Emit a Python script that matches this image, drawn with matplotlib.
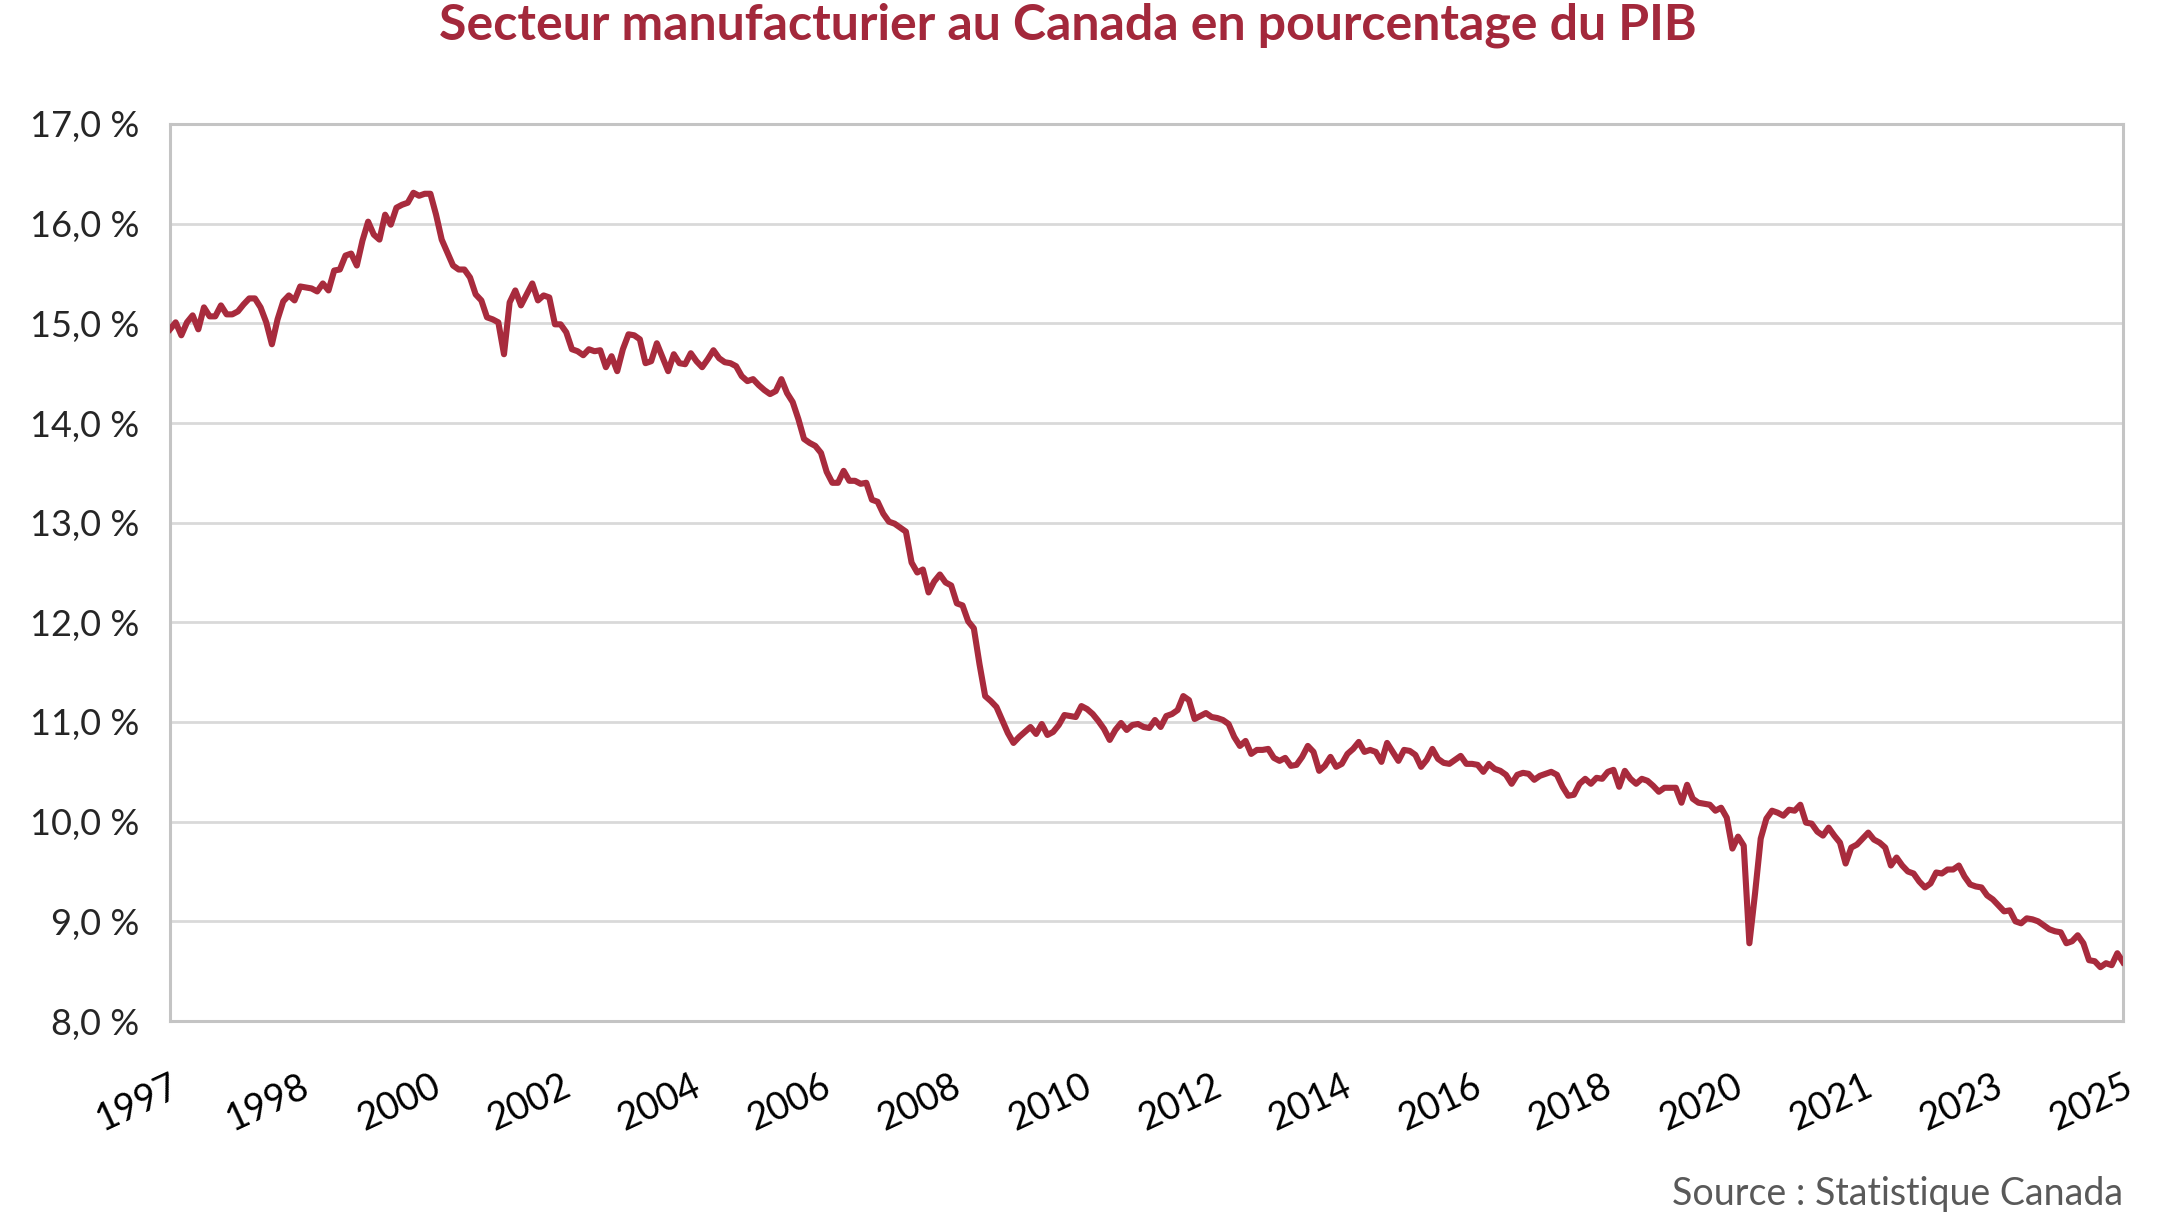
import matplotlib
matplotlib.use('Agg')
import matplotlib.pyplot as plt
import numpy as np
import pandas as pd

plt.rcParams['font.family'] = ['Lato', 'DejaVu Sans']

# manufacturing share of GDP (%), monthly Jan 1997 - Oct 2025
share = [
    14.94, 15.01, 14.88, 15.01, 15.08, 14.94, 15.16, 15.07, 15.07, 15.18, 15.09, 15.09,  # 1997
    15.12, 15.19, 15.25, 15.25, 15.16, 15.01, 14.79, 15.04, 15.22, 15.28, 15.23, 15.37,  # 1998
    15.36, 15.35, 15.32, 15.40, 15.33, 15.53, 15.54, 15.68, 15.70, 15.58, 15.83, 16.02,  # 1999
    15.89, 15.84, 16.09, 15.99, 16.16, 16.19, 16.21, 16.31, 16.28, 16.30, 16.30, 16.09,  # 2000
    15.84, 15.71, 15.58, 15.54, 15.54, 15.46, 15.29, 15.23, 15.06, 15.04, 15.01, 14.69,  # 2001
    15.21, 15.33, 15.18, 15.29, 15.40, 15.23, 15.28, 15.26, 14.99, 14.99, 14.91, 14.74,  # 2002
    14.72, 14.68, 14.74, 14.72, 14.73, 14.56, 14.67, 14.52, 14.74, 14.89, 14.88, 14.84,  # 2003
    14.60, 14.62, 14.80, 14.66, 14.52, 14.69, 14.60, 14.59, 14.70, 14.62, 14.56, 14.64,  # 2004
    14.73, 14.65, 14.61, 14.60, 14.57, 14.47, 14.42, 14.44, 14.38, 14.33, 14.29, 14.32,  # 2005
    14.44, 14.30, 14.21, 14.04, 13.84, 13.80, 13.77, 13.70, 13.51, 13.40, 13.40, 13.52,  # 2006
    13.42, 13.42, 13.39, 13.40, 13.23, 13.21, 13.09, 13.01, 12.99, 12.95, 12.91, 12.60,  # 2007
    12.50, 12.53, 12.30, 12.41, 12.48, 12.40, 12.37, 12.19, 12.17, 12.01, 11.94, 11.58,  # 2008
    11.26, 11.21, 11.15, 11.02, 10.89, 10.79, 10.85, 10.90, 10.95, 10.88, 10.98, 10.87,  # 2009
    10.90, 10.97, 11.07, 11.06, 11.05, 11.16, 11.13, 11.08, 11.01, 10.93, 10.82, 10.92,  # 2010
    10.99, 10.92, 10.97, 10.98, 10.95, 10.94, 11.02, 10.95, 11.06, 11.08, 11.12, 11.26,  # 2011
    11.22, 11.03, 11.06, 11.09, 11.05, 11.04, 11.02, 10.98, 10.85, 10.76, 10.81, 10.68,  # 2012
    10.72, 10.72, 10.73, 10.64, 10.61, 10.64, 10.56, 10.57, 10.65, 10.76, 10.70, 10.51,  # 2013
    10.56, 10.65, 10.55, 10.58, 10.68, 10.73, 10.80, 10.70, 10.72, 10.70, 10.60, 10.79,  # 2014
    10.70, 10.61, 10.72, 10.71, 10.67, 10.55, 10.62, 10.73, 10.63, 10.59, 10.58, 10.62,  # 2015
    10.66, 10.58, 10.58, 10.57, 10.50, 10.58, 10.53, 10.51, 10.47, 10.38, 10.47, 10.49,  # 2016
    10.48, 10.42, 10.46, 10.48, 10.50, 10.47, 10.35, 10.26, 10.27, 10.38, 10.43, 10.38,  # 2017
    10.44, 10.43, 10.50, 10.52, 10.35, 10.51, 10.43, 10.38, 10.43, 10.41, 10.36, 10.30,  # 2018
    10.34, 10.34, 10.34, 10.19, 10.37, 10.23, 10.19, 10.18, 10.17, 10.11, 10.14, 10.04,  # 2019
    9.73, 9.85, 9.76, 8.78, 9.28, 9.83, 10.03, 10.11, 10.09, 10.06, 10.12, 10.11,  # 2020
    10.17, 9.99, 9.98, 9.90, 9.86, 9.94, 9.86, 9.79, 9.58, 9.74, 9.77, 9.83,  # 2021
    9.89, 9.82, 9.79, 9.74, 9.56, 9.64, 9.56, 9.50, 9.48, 9.40, 9.34, 9.38,  # 2022
    9.49, 9.48, 9.52, 9.52, 9.56, 9.45, 9.37, 9.35, 9.34, 9.26, 9.22, 9.16,  # 2023
    9.10, 9.11, 9.00, 8.98, 9.03, 9.02, 9.00, 8.96, 8.92, 8.90, 8.89, 8.78,  # 2024
    8.80, 8.86, 8.78, 8.61, 8.60, 8.54, 8.58, 8.56, 8.68, 8.59,  # 2025
]
months = pd.date_range('1997-01-01', periods=len(share), freq='MS')

# category axis labelled every 23 months, like the source chart
tick_step = 23
year_labels = ['1997', '1998', '2000', '2002', '2004', '2006', '2008', '2010',
               '2012', '2014', '2016', '2018', '2020', '2021', '2023', '2025']
y_ticks = [8, 9, 10, 11, 12, 13, 14, 15, 16, 17]

title = 'Secteur manufacturier au Canada en pourcentage du PIB'
source = 'Source : Statistique Canada'

red = '#A82B3D'

fig = plt.figure(figsize=(10.8, 6.08), dpi=200)
ax = fig.add_axes([170 / 2160, 1 - 1021 / 1216, 1953 / 2160, 897 / 1216])

x = np.arange(len(months))
ax.plot(x, share, color=red, lw=2.2, solid_joinstyle='round', zorder=3)

ax.set_xlim(0, len(months) - 1)
ax.set_ylim(8, 17)

ax.set_yticks(y_ticks)
ax.set_yticklabels([('%.1f %%' % v).replace('.', ',') for v in y_ticks])
ax.set_xticks(x[::tick_step])
ax.set_xticklabels(year_labels, rotation=25, ha='right', va='top',
                   rotation_mode='anchor')

ax.tick_params(axis='y', length=0, pad=11, labelsize=13, labelcolor='#262626')
ax.tick_params(axis='x', length=0, pad=17, labelsize=13.5, labelcolor='#000000')

ax.grid(axis='y', color='#D9D9D9', lw=1.0)
ax.set_axisbelow(True)
for s in ax.spines.values():
    s.set_color('#C4C4C4')
    s.set_linewidth(1.1)

fig.text(1068 / 2160, 1 - 25 / 1216, title, ha='center', va='center',
         fontsize=18, fontweight='bold', color='#A3283B')
fig.text(2123 / 2160, 1 - 1194 / 1216, source, ha='right', va='center',
         fontsize=13.5, color='#595959')

fig.savefig('out.png', dpi=200)
